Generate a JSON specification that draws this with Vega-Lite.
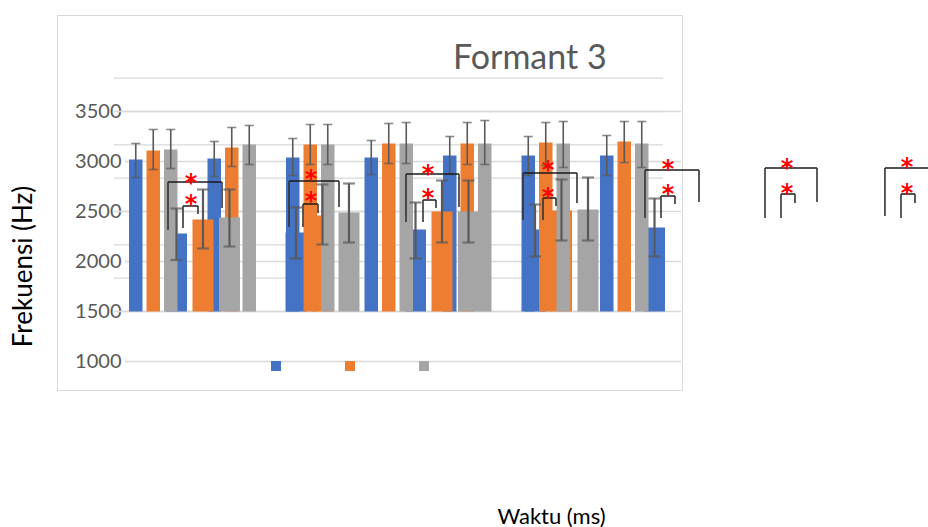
{
  "$schema": "https://vega.github.io/schema/vega-lite/v6.json",
  "autosize": {"type": "none"},
  "padding": {"left": 57, "top": 15, "right": 246, "bottom": 137},
  "width": 625,
  "height": 375,
  "background": "white",
  "title": {"text": "Formant 3", "anchor": "start", "frame": "group", "orient": "top", "offset": 0, "dx": 396, "dy": 88, "baseline": "alphabetic", "fontSize": 34, "font": "Lato", "fontWeight": "normal", "color": "#595959"},
  "config": {"view": {"stroke": "#d9d9d9", "strokeWidth": 1}},
  "datasets": {
    "grafikA": [
      {"kelompok": 1, "seri": "Seri 1", "nilai": 3020, "bawah": 2840, "atas": 3180},
      {"kelompok": 1, "seri": "Seri 2", "nilai": 3110, "bawah": 2920, "atas": 3320},
      {"kelompok": 1, "seri": "Seri 3", "nilai": 3120, "bawah": 2930, "atas": 3320},
      {"kelompok": 2, "seri": "Seri 1", "nilai": 3030, "bawah": 2850, "atas": 3200},
      {"kelompok": 2, "seri": "Seri 2", "nilai": 3140, "bawah": 2950, "atas": 3340},
      {"kelompok": 2, "seri": "Seri 3", "nilai": 3170, "bawah": 2970, "atas": 3360},
      {"kelompok": 3, "seri": "Seri 1", "nilai": 3040, "bawah": 2860, "atas": 3230},
      {"kelompok": 3, "seri": "Seri 2", "nilai": 3170, "bawah": 2970, "atas": 3370},
      {"kelompok": 3, "seri": "Seri 3", "nilai": 3170, "bawah": 2970, "atas": 3370},
      {"kelompok": 4, "seri": "Seri 1", "nilai": 3040, "bawah": 2870, "atas": 3210},
      {"kelompok": 4, "seri": "Seri 2", "nilai": 3180, "bawah": 2980, "atas": 3380},
      {"kelompok": 4, "seri": "Seri 3", "nilai": 3180, "bawah": 2980, "atas": 3390},
      {"kelompok": 5, "seri": "Seri 1", "nilai": 3060, "bawah": 2870, "atas": 3250},
      {"kelompok": 5, "seri": "Seri 2", "nilai": 3180, "bawah": 2970, "atas": 3390},
      {"kelompok": 5, "seri": "Seri 3", "nilai": 3180, "bawah": 2970, "atas": 3410},
      {"kelompok": 6, "seri": "Seri 1", "nilai": 3060, "bawah": 2860, "atas": 3250},
      {"kelompok": 6, "seri": "Seri 2", "nilai": 3190, "bawah": 2960, "atas": 3390},
      {"kelompok": 6, "seri": "Seri 3", "nilai": 3180, "bawah": 2940, "atas": 3400},
      {"kelompok": 7, "seri": "Seri 1", "nilai": 3060, "bawah": 2860, "atas": 3260},
      {"kelompok": 7, "seri": "Seri 2", "nilai": 3200, "bawah": 2990, "atas": 3400},
      {"kelompok": 7, "seri": "Seri 3", "nilai": 3180, "bawah": 2940, "atas": 3400}
    ],
    "grafikB": [
      {"kelompok": 1, "seri": "Seri 1", "nilai": 2280, "bawah": 2015, "atas": 2530},
      {"kelompok": 1, "seri": "Seri 2", "nilai": 2420, "bawah": 2130, "atas": 2720},
      {"kelompok": 1, "seri": "Seri 3", "nilai": 2440, "bawah": 2150, "atas": 2720},
      {"kelompok": 2, "seri": "Seri 1", "nilai": 2290, "bawah": 2030, "atas": 2540},
      {"kelompok": 2, "seri": "Seri 2", "nilai": 2460, "bawah": 2170, "atas": 2770},
      {"kelompok": 2, "seri": "Seri 3", "nilai": 2490, "bawah": 2190, "atas": 2780},
      {"kelompok": 3, "seri": "Seri 1", "nilai": 2320, "bawah": 2030, "atas": 2590},
      {"kelompok": 3, "seri": "Seri 2", "nilai": 2500, "bawah": 2190, "atas": 2810},
      {"kelompok": 3, "seri": "Seri 3", "nilai": 2500, "bawah": 2190, "atas": 2810},
      {"kelompok": 4, "seri": "Seri 1", "nilai": 2320, "bawah": 2050, "atas": 2570},
      {"kelompok": 4, "seri": "Seri 2", "nilai": 2510, "bawah": 2210, "atas": 2820},
      {"kelompok": 4, "seri": "Seri 3", "nilai": 2520, "bawah": 2210, "atas": 2840},
      {"kelompok": 5, "seri": "Seri 1", "nilai": 2340, "bawah": 2050, "atas": 2630}
    ],
    "tanda": [
      {"kiri": 0.7071, "kanan": 1.1590, "puncak": 2795, "kakiKiri": 2315, "kakiKanan": 2535, "bintangX": 0.8996, "bintangY": 2845, "simbol": "*"},
      {"kiri": 0.8326, "kanan": 0.9582, "puncak": 2555, "kakiKiri": 2335, "kakiKanan": 2475, "bintangX": 0.8996, "bintangY": 2635, "simbol": "*"},
      {"kiri": 1.7197, "kanan": 2.1381, "puncak": 2805, "kakiKiri": 2345, "kakiKanan": 2545, "bintangX": 1.9038, "bintangY": 2885, "simbol": "*"},
      {"kiri": 1.8368, "kanan": 1.9623, "puncak": 2575, "kakiKiri": 2345, "kakiKanan": 2485, "bintangX": 1.9038, "bintangY": 2665, "simbol": "*"},
      {"kiri": 2.6987, "kanan": 3.1423, "puncak": 2875, "kakiKiri": 2395, "kakiKanan": 2545, "bintangX": 2.8828, "bintangY": 2935, "simbol": "*"},
      {"kiri": 2.8410, "kanan": 2.9498, "puncak": 2615, "kakiKiri": 2395, "kakiKanan": 2535, "bintangX": 2.8828, "bintangY": 2695, "simbol": "*"},
      {"kiri": 3.6778, "kanan": 4.1297, "puncak": 2885, "kakiKiri": 2415, "kakiKanan": 2585, "bintangX": 3.8870, "bintangY": 2975, "simbol": "*"},
      {"kiri": 3.8452, "kanan": 3.9540, "puncak": 2635, "kakiKiri": 2415, "kakiKanan": 2555, "bintangX": 3.8870, "bintangY": 2705, "simbol": "*"},
      {"kiri": 4.6987, "kanan": 5.1506, "puncak": 2915, "kakiKiri": 2435, "kakiKanan": 2595, "bintangX": 4.8912, "bintangY": 2985, "simbol": "*"},
      {"kiri": 4.8326, "kanan": 4.9498, "puncak": 2655, "kakiKiri": 2435, "kakiKanan": 2575, "bintangX": 4.8912, "bintangY": 2735, "simbol": "*"},
      {"kiri": 5.7029, "kanan": 6.1381, "puncak": 2935, "kakiKiri": 2435, "kakiKanan": 2595, "bintangX": 5.8870, "bintangY": 2995, "simbol": "*"},
      {"kiri": 5.8368, "kanan": 5.9540, "puncak": 2675, "kakiKiri": 2435, "kakiKanan": 2585, "bintangX": 5.8870, "bintangY": 2745, "simbol": "*"},
      {"kiri": 6.7067, "kanan": 7.1423, "puncak": 2935, "kakiKiri": 2455, "kakiKanan": 2595, "bintangX": 6.8912, "bintangY": 3005, "simbol": "*"},
      {"kiri": 6.8410, "kanan": 6.9582, "puncak": 2675, "kakiKiri": 2435, "kakiKanan": 2585, "bintangX": 6.8912, "bintangY": 2745, "simbol": "*"}
    ],
    "gridUtama": [{"nilai": 1000}, {"nilai": 1500}, {"nilai": 2000}, {"nilai": 2500}, {"nilai": 3000}, {"nilai": 3500}],
    "gridLatar": [{"nilai": 1500}, {"nilai": 1833.3}, {"nilai": 2166.7}, {"nilai": 2500}, {"nilai": 2833.3}, {"nilai": 3166.7}, {"nilai": 3500}, {"nilai": 3833.3}]
  },
  "resolve": {"scale": {"x": "independent", "xOffset": "independent"}, "axis": {"x": "independent"}},
  "layer": [
    {
      "data": {"name": "gridUtama"},
      "mark": {"type": "rule", "color": "#d9d9d9", "strokeWidth": 1.3},
      "encoding": {
        "x": {"datum": 0.3473, "type": "quantitative", "scale": {"domain": [-0.2218, 5.0084], "nice": false, "zero": false}, "axis": null},
        "x2": {"datum": 5.0},
        "y": {"field": "nilai", "type": "quantitative", "scale": {"domain": [715, 4465], "nice": false, "zero": false},
          "axis": {"values": [1000, 1500, 2000, 2500, 3000, 3500], "format": "d", "grid": false, "domain": false, "ticks": false, "offset": -67, "labelPadding": 3, "labelFont": "Lato", "labelFontSize": 20, "labelColor": "#595959", "title": "Frekuensi (Hz)", "titleFont": "Lato", "titleFontSize": 26, "titleFontWeight": "normal", "titleColor": "#000000", "titleX": -101, "titleY": 251, "titleAngle": -90, "titleAlign": "center", "titleBaseline": "middle"}}
      }
    },
    {
      "data": {"name": "gridLatar"},
      "mark": {"type": "rule", "color": "#d9d9d9", "strokeWidth": 1.3},
      "encoding": {
        "x": {"datum": 0.2552, "type": "quantitative", "scale": {"domain": [-0.2218, 5.0084], "nice": false, "zero": false}, "axis": null},
        "x2": {"datum": 4.8494},
        "y": {"field": "nilai", "type": "quantitative", "scale": {"domain": [715, 4465], "nice": false, "zero": false}}
      }
    },
    {
      "data": {"name": "grafikB"},
      "transform": [{"filter": "datum.seri === 'Seri 1'"}],
      "mark": {"type": "bar", "clip": true},
      "encoding": {
        "x": {"field": "kelompok", "type": "ordinal", "scale": {"domain": [1, 2, 3, 4, 5, 6, 7], "range": [109, 900], "paddingInner": 0.381, "paddingOuter": 0}, "axis": null},
        "xOffset": {"field": "seri", "type": "nominal", "scale": {"domain": ["Seri 1", "Seri 2", "Seri 3"], "paddingInner": 0.2075, "paddingOuter": 0}},
        "y": {"field": "nilai", "type": "quantitative", "scale": {"domain": [715, 4465], "nice": false, "zero": false}},
        "y2": {"datum": 1500},
        "color": {"field": "seri", "type": "nominal", "scale": {"domain": ["Seri 1", "Seri 2", "Seri 3"], "range": ["#4472C4", "#ED7D31", "#A5A5A5"]},
          "legend": {"orient": "none", "legendX": 214, "legendY": 346, "direction": "horizontal", "title": null, "labelExpr": "''", "symbolType": "square", "symbolSize": 100, "symbolStrokeWidth": 0, "columnPadding": 64, "labelOffset": 0, "padding": 0}}
      }
    },
    {
      "data": {"name": "grafikA"},
      "transform": [{"filter": "datum.seri === 'Seri 1'"}],
      "mark": {"type": "bar"},
      "encoding": {
        "x": {"field": "kelompok", "type": "ordinal", "scale": {"domain": [1, 2, 3, 4, 5, 6, 7], "range": [72, 591.5], "paddingInner": 0.3822, "paddingOuter": 0}, "axis": null},
        "xOffset": {"field": "seri", "type": "nominal", "scale": {"domain": ["Seri 1", "Seri 2", "Seri 3"], "paddingInner": 0.2286, "paddingOuter": 0}},
        "y": {"field": "nilai", "type": "quantitative", "scale": {"domain": [715, 4465], "nice": false, "zero": false}},
        "y2": {"datum": 1500},
        "color": {"field": "seri", "type": "nominal", "scale": {"domain": ["Seri 1", "Seri 2", "Seri 3"], "range": ["#4472C4", "#ED7D31", "#A5A5A5"]}}
      }
    },
    {
      "data": {"name": "grafikB"},
      "transform": [{"filter": "datum.seri === 'Seri 2'"}],
      "mark": {"type": "bar", "clip": true},
      "encoding": {
        "x": {"field": "kelompok", "type": "ordinal", "scale": {"domain": [1, 2, 3, 4, 5, 6, 7], "range": [109, 900], "paddingInner": 0.381, "paddingOuter": 0}, "axis": null},
        "xOffset": {"field": "seri", "type": "nominal", "scale": {"domain": ["Seri 1", "Seri 2", "Seri 3"], "paddingInner": 0.2075, "paddingOuter": 0}},
        "y": {"field": "nilai", "type": "quantitative", "scale": {"domain": [715, 4465], "nice": false, "zero": false}},
        "y2": {"datum": 1500},
        "color": {"field": "seri", "type": "nominal", "scale": {"domain": ["Seri 1", "Seri 2", "Seri 3"], "range": ["#4472C4", "#ED7D31", "#A5A5A5"]}}
      }
    },
    {
      "data": {"name": "grafikA"},
      "transform": [{"filter": "datum.seri === 'Seri 2'"}],
      "mark": {"type": "bar"},
      "encoding": {
        "x": {"field": "kelompok", "type": "ordinal", "scale": {"domain": [1, 2, 3, 4, 5, 6, 7], "range": [72, 591.5], "paddingInner": 0.3822, "paddingOuter": 0}, "axis": null},
        "xOffset": {"field": "seri", "type": "nominal", "scale": {"domain": ["Seri 1", "Seri 2", "Seri 3"], "paddingInner": 0.2286, "paddingOuter": 0}},
        "y": {"field": "nilai", "type": "quantitative", "scale": {"domain": [715, 4465], "nice": false, "zero": false}},
        "y2": {"datum": 1500},
        "color": {"field": "seri", "type": "nominal", "scale": {"domain": ["Seri 1", "Seri 2", "Seri 3"], "range": ["#4472C4", "#ED7D31", "#A5A5A5"]}}
      }
    },
    {
      "data": {"name": "grafikB"},
      "transform": [{"filter": "datum.seri === 'Seri 3'"}],
      "mark": {"type": "bar", "clip": true},
      "encoding": {
        "x": {"field": "kelompok", "type": "ordinal", "scale": {"domain": [1, 2, 3, 4, 5, 6, 7], "range": [109, 900], "paddingInner": 0.381, "paddingOuter": 0}, "axis": null},
        "xOffset": {"field": "seri", "type": "nominal", "scale": {"domain": ["Seri 1", "Seri 2", "Seri 3"], "paddingInner": 0.2075, "paddingOuter": 0}},
        "y": {"field": "nilai", "type": "quantitative", "scale": {"domain": [715, 4465], "nice": false, "zero": false}},
        "y2": {"datum": 1500},
        "color": {"field": "seri", "type": "nominal", "scale": {"domain": ["Seri 1", "Seri 2", "Seri 3"], "range": ["#4472C4", "#ED7D31", "#A5A5A5"]}}
      }
    },
    {
      "data": {"name": "grafikA"},
      "transform": [{"filter": "datum.seri === 'Seri 3'"}],
      "mark": {"type": "bar"},
      "encoding": {
        "x": {"field": "kelompok", "type": "ordinal", "scale": {"domain": [1, 2, 3, 4, 5, 6, 7], "range": [72, 591.5], "paddingInner": 0.3822, "paddingOuter": 0}, "axis": null},
        "xOffset": {"field": "seri", "type": "nominal", "scale": {"domain": ["Seri 1", "Seri 2", "Seri 3"], "paddingInner": 0.2286, "paddingOuter": 0}},
        "y": {"field": "nilai", "type": "quantitative", "scale": {"domain": [715, 4465], "nice": false, "zero": false}},
        "y2": {"datum": 1500},
        "color": {"field": "seri", "type": "nominal", "scale": {"domain": ["Seri 1", "Seri 2", "Seri 3"], "range": ["#4472C4", "#ED7D31", "#A5A5A5"]}}
      }
    },
    {
      "data": {"name": "grafikA"},
      "mark": {"type": "rule", "color": "#595959", "strokeWidth": 1.6},
      "encoding": {
        "x": {"field": "kelompok", "type": "ordinal", "scale": {"domain": [1, 2, 3, 4, 5, 6, 7], "range": [72, 591.5], "paddingInner": 0.3822, "paddingOuter": 0}, "axis": null},
        "xOffset": {"field": "seri", "type": "nominal", "scale": {"domain": ["Seri 1", "Seri 2", "Seri 3"], "paddingInner": 0.2286, "paddingOuter": 0}},
        "y": {"field": "bawah", "type": "quantitative", "scale": {"domain": [715, 4465], "nice": false, "zero": false}},
        "y2": {"field": "atas"}
      }
    },
    {
      "data": {"name": "grafikA"},
      "mark": {"type": "tick", "orient": "horizontal", "color": "#595959", "size": 9, "thickness": 1.6},
      "encoding": {
        "x": {"field": "kelompok", "type": "ordinal", "scale": {"domain": [1, 2, 3, 4, 5, 6, 7], "range": [72, 591.5], "paddingInner": 0.3822, "paddingOuter": 0}, "axis": null},
        "xOffset": {"field": "seri", "type": "nominal", "scale": {"domain": ["Seri 1", "Seri 2", "Seri 3"], "paddingInner": 0.2286, "paddingOuter": 0}},
        "y": {"field": "bawah", "type": "quantitative", "scale": {"domain": [715, 4465], "nice": false, "zero": false}}
      }
    },
    {
      "data": {"name": "grafikA"},
      "mark": {"type": "tick", "orient": "horizontal", "color": "#595959", "size": 9, "thickness": 1.6},
      "encoding": {
        "x": {"field": "kelompok", "type": "ordinal", "scale": {"domain": [1, 2, 3, 4, 5, 6, 7], "range": [72, 591.5], "paddingInner": 0.3822, "paddingOuter": 0}, "axis": null},
        "xOffset": {"field": "seri", "type": "nominal", "scale": {"domain": ["Seri 1", "Seri 2", "Seri 3"], "paddingInner": 0.2286, "paddingOuter": 0}},
        "y": {"field": "atas", "type": "quantitative", "scale": {"domain": [715, 4465], "nice": false, "zero": false}}
      }
    },
    {
      "data": {"name": "grafikB"},
      "mark": {"type": "rule", "color": "#595959", "strokeWidth": 2.2},
      "encoding": {
        "x": {"field": "kelompok", "type": "ordinal", "scale": {"domain": [1, 2, 3, 4, 5, 6, 7], "range": [109, 900], "paddingInner": 0.381, "paddingOuter": 0}, "axis": null},
        "xOffset": {"field": "seri", "type": "nominal", "scale": {"domain": ["Seri 1", "Seri 2", "Seri 3"], "paddingInner": 0.2075, "paddingOuter": 0}},
        "y": {"field": "bawah", "type": "quantitative", "scale": {"domain": [715, 4465], "nice": false, "zero": false}},
        "y2": {"field": "atas"}
      }
    },
    {
      "data": {"name": "grafikB"},
      "mark": {"type": "tick", "orient": "horizontal", "color": "#595959", "size": 12, "thickness": 2.2},
      "encoding": {
        "x": {"field": "kelompok", "type": "ordinal", "scale": {"domain": [1, 2, 3, 4, 5, 6, 7], "range": [109, 900], "paddingInner": 0.381, "paddingOuter": 0}, "axis": null},
        "xOffset": {"field": "seri", "type": "nominal", "scale": {"domain": ["Seri 1", "Seri 2", "Seri 3"], "paddingInner": 0.2075, "paddingOuter": 0}},
        "y": {"field": "bawah", "type": "quantitative", "scale": {"domain": [715, 4465], "nice": false, "zero": false}}
      }
    },
    {
      "data": {"name": "grafikB"},
      "mark": {"type": "tick", "orient": "horizontal", "color": "#595959", "size": 12, "thickness": 2.2},
      "encoding": {
        "x": {"field": "kelompok", "type": "ordinal", "scale": {"domain": [1, 2, 3, 4, 5, 6, 7], "range": [109, 900], "paddingInner": 0.381, "paddingOuter": 0}, "axis": null},
        "xOffset": {"field": "seri", "type": "nominal", "scale": {"domain": ["Seri 1", "Seri 2", "Seri 3"], "paddingInner": 0.2075, "paddingOuter": 0}},
        "y": {"field": "atas", "type": "quantitative", "scale": {"domain": [715, 4465], "nice": false, "zero": false}}
      }
    },
    {
      "data": {"name": "tanda"},
      "mark": {"type": "rule", "color": "#1a1a1a", "strokeWidth": 1.5},
      "encoding": {
        "x": {"field": "kiri", "type": "quantitative", "scale": {"domain": [-0.2218, 5.0084], "nice": false, "zero": false},
          "axis": {"labels": false, "ticks": false, "domain": false, "grid": false, "title": "Waktu (ms)", "titleFont": "Lato", "titleFontSize": 22, "titleFontWeight": "normal", "titleColor": "#000000", "titleX": 494, "titleY": 126, "titleAlign": "center", "titleBaseline": "middle"}},
        "x2": {"field": "kanan"},
        "y": {"field": "puncak", "type": "quantitative", "scale": {"domain": [715, 4465], "nice": false, "zero": false}}
      }
    },
    {
      "data": {"name": "tanda"},
      "mark": {"type": "rule", "color": "#333333", "strokeWidth": 1.6},
      "encoding": {
        "x": {"field": "kiri", "type": "quantitative", "scale": {"domain": [-0.2218, 5.0084], "nice": false, "zero": false}, "axis": null},
        "y": {"field": "puncak", "type": "quantitative", "scale": {"domain": [715, 4465], "nice": false, "zero": false}},
        "y2": {"field": "kakiKiri"}
      }
    },
    {
      "data": {"name": "tanda"},
      "mark": {"type": "rule", "color": "#333333", "strokeWidth": 1.6},
      "encoding": {
        "x": {"field": "kanan", "type": "quantitative", "scale": {"domain": [-0.2218, 5.0084], "nice": false, "zero": false}, "axis": null},
        "y": {"field": "puncak", "type": "quantitative", "scale": {"domain": [715, 4465], "nice": false, "zero": false}},
        "y2": {"field": "kakiKanan"}
      }
    },
    {
      "data": {"name": "tanda"},
      "mark": {"type": "text", "color": "#ff0000", "font": "DejaVu Sans", "fontWeight": "bold", "fontSize": 24, "baseline": "alphabetic", "align": "center", "dy": 14},
      "encoding": {
        "x": {"field": "bintangX", "type": "quantitative", "scale": {"domain": [-0.2218, 5.0084], "nice": false, "zero": false}, "axis": null},
        "y": {"field": "bintangY", "type": "quantitative", "scale": {"domain": [715, 4465], "nice": false, "zero": false}},
        "text": {"field": "simbol"}
      }
    }
  ]
}
